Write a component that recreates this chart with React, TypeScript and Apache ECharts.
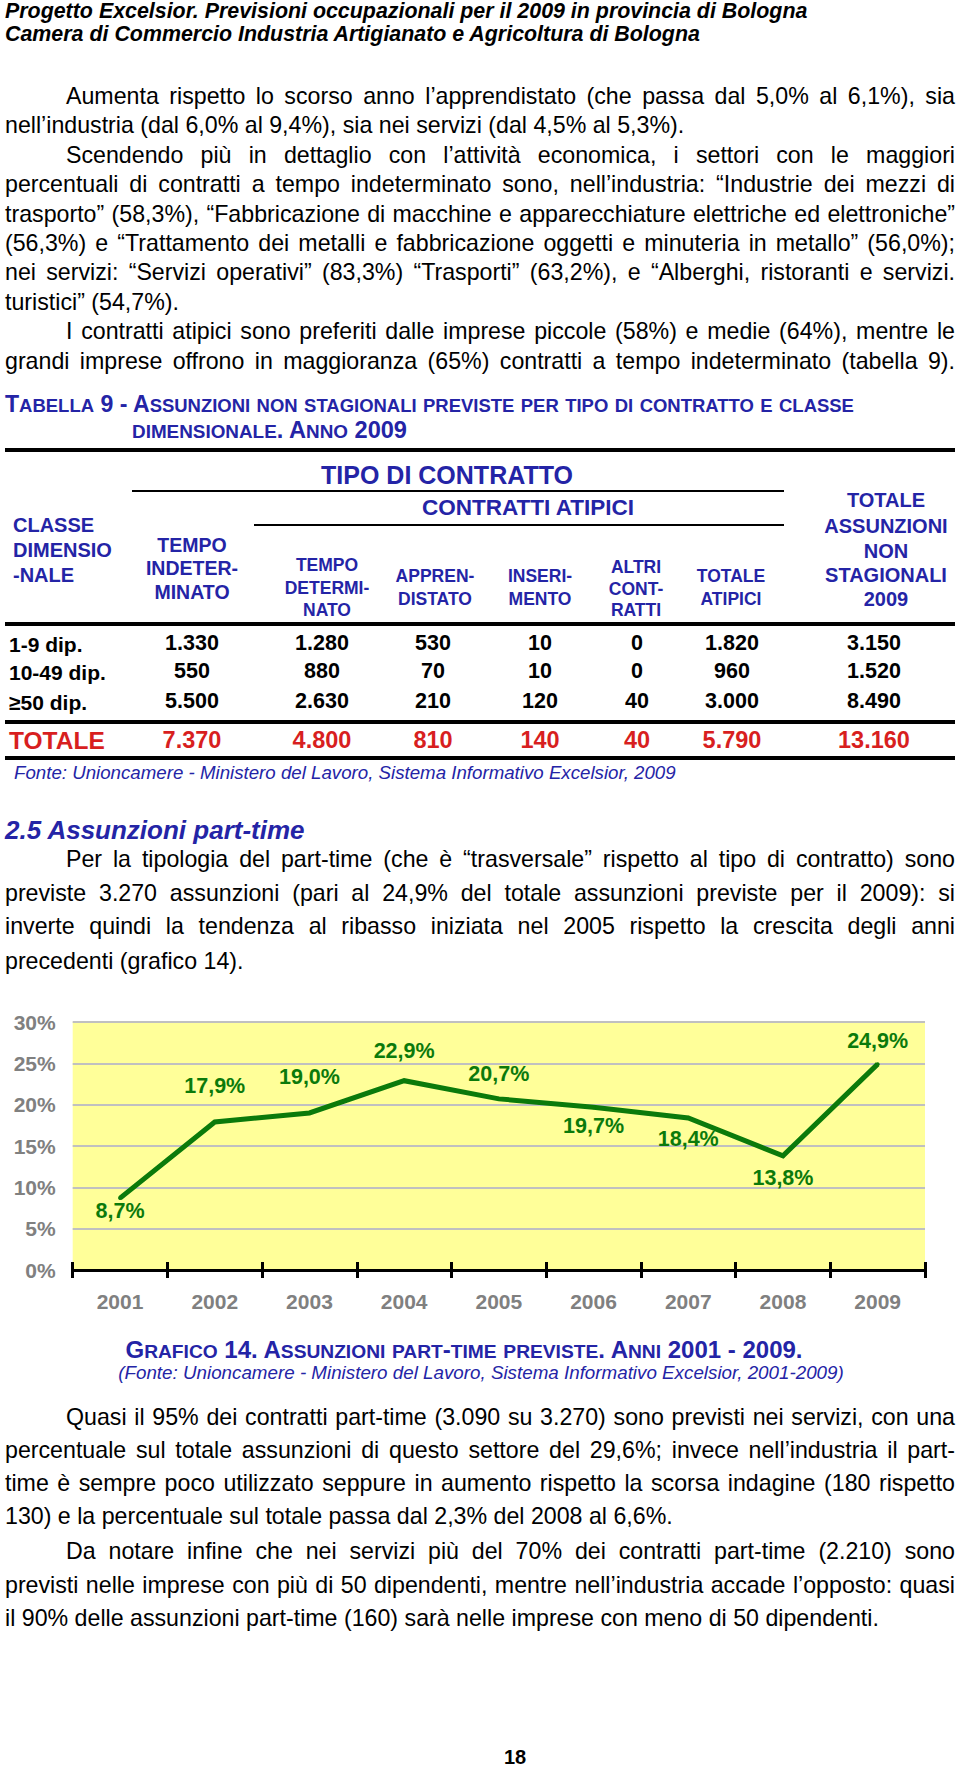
import React, { useEffect, useRef } from "react";
import * as echarts from "echarts";

const FONT = '"Liberation Sans", Arial, Helvetica, sans-serif';
const BLUE = "#2424a6";
const RED = "#d81f1f";
const GREEN = "#0b7a0b";
const GRAY = "#808080";

// ---------- chart data (Grafico 14) ----------
const years = ["2001", "2002", "2003", "2004", "2005", "2006", "2007", "2008", "2009"];
const partTimeShare = [8.7, 17.9, 19.0, 22.9, 20.7, 19.7, 18.4, 13.8, 24.9];
const yAxisMin = 0;
const yAxisMax = 30;
const yAxisStep = 5;

// label placement (style only)
const labelSide = ["bottom", "top", "top", "top", "top", "bottom", "bottom", "bottom", "top"];
const labelGap = [0, 23.5, 22.5, 17, 11.5, 5.5, 8.5, 9.5, 10.5];
const labelShiftX = [7, 3, 2, 2, 15, 1, 2, 1, 1];

// ---------- table data (Tabella 9) ----------
const sizeClasses = ["1-9 dip.", "10-49 dip.", "\u226550 dip."];
const tempoIndeterminato = [1330, 550, 5500];
const tempoDeterminato = [1280, 880, 2630];
const apprendistato = [530, 70, 210];
const inserimento = [10, 10, 120];
const altriContratti = [0, 0, 40];
const totaleAtipici = [1820, 960, 3000];
const totaleAssunzioni = [3150, 1520, 8490];
const totaleLabel = "TOTALE";
const totaleRow = [7370, 4800, 810, 140, 40, 5790, 13160];

// ---------- texts ----------
const headerLines = [
  "Progetto Excelsior. Previsioni occupazionali per il 2009 in provincia di Bologna",
  "Camera di Commercio Industria Artigianato e Agricoltura di Bologna",
];

type L = [string, boolean, boolean]; // text, indent, justify
const paraTop: L[] = [
  ["Aumenta rispetto lo scorso anno l\u2019apprendistato (che passa dal 5,0% al 6,1%), sia", true, true],
  ["nell\u2019industria (dal 6,0% al 9,4%), sia nei servizi (dal 4,5% al 5,3%).", false, false],
  ["Scendendo pi\u00f9 in dettaglio con l\u2019attivit\u00e0 economica, i settori con le maggiori", true, true],
  ["percentuali di contratti a tempo indeterminato sono, nell\u2019industria: \u201cIndustrie dei mezzi di", false, true],
  ["trasporto\u201d (58,3%), \u201cFabbricazione di macchine e apparecchiature elettriche ed elettroniche\u201d", false, true],
  ["(56,3%) e \u201cTrattamento dei metalli e fabbricazione oggetti e minuteria in metallo\u201d (56,0%);", false, true],
  ["nei servizi: \u201cServizi operativi\u201d (83,3%) \u201cTrasporti\u201d (63,2%), e \u201cAlberghi, ristoranti e servizi.", false, true],
  ["turistici\u201d (54,7%).", false, false],
  ["I contratti atipici sono preferiti dalle imprese piccole (58%) e medie (64%), mentre le", true, true],
  ["grandi imprese offrono in maggioranza (65%) contratti a tempo indeterminato (tabella 9).", false, true],
];
const paraTopY = [96, 125.4, 154.8, 184.2, 213.6, 243, 272.4, 301.8, 331.2, 360.6];

const paraMid: L[] = [
  ["Per la tipologia del part-time (che \u00e8 \u201ctrasversale\u201d rispetto al tipo di contratto) sono", true, true],
  ["previste 3.270 assunzioni (pari al 24,9% del totale assunzioni previste per il 2009): si", false, true],
  ["inverte quindi la tendenza al ribasso iniziata nel 2005 rispetto la crescita degli anni", false, true],
  ["precedenti (grafico 14).", false, false],
];
const paraMidY = [859, 893, 926, 961];

const paraBottom: L[] = [
  ["Quasi il 95% dei contratti part-time (3.090 su 3.270) sono previsti nei servizi, con una", true, true],
  ["percentuale sul totale assunzioni di questo settore del 29,6%; invece nell\u2019industria il part-", false, true],
  ["time \u00e8 sempre poco utilizzato seppure in aumento rispetto la scorsa indagine (180 rispetto", false, true],
  ["130) e la percentuale sul totale passa dal 2,3% del 2008 al 6,6%.", false, false],
  ["Da notare infine che nei servizi pi\u00f9 del 70% dei contratti part-time (2.210) sono", true, true],
  ["previsti nelle imprese con pi\u00f9 di 50 dipendenti, mentre nell\u2019industria accade l\u2019opposto: quasi", false, true],
  ["il 90% delle assunzioni part-time (160) sar\u00e0 nelle imprese con meno di 50 dipendenti.", false, false],
];
const paraBottomY = [1417, 1450, 1483, 1516, 1551, 1585, 1618];

const BODY_SIZE = 23.2;
const LEFT = 5;
const TEXT_W = 950;
const INDENT = 61;

function fmt(n: number): string {
  return String(n).replace(/\B(?=(\d{3})+(?!\d))/g, ".");
}

function SmallCaps({ text, ratio }: { text: string; ratio: number }) {
  const parts: { t: string; small: boolean }[] = [];
  let buf = "";
  let small: boolean | null = null;
  for (const ch of text) {
    const isLower = ch !== ch.toUpperCase();
    if (small === null) small = isLower;
    if (isLower !== small) {
      parts.push({ t: buf, small: !!small });
      buf = "";
      small = isLower;
    }
    buf += isLower ? ch.toUpperCase() : ch;
  }
  if (buf) parts.push({ t: buf, small: !!small });
  return (
    <>
      {parts.map((p, i) => (
        <span key={i} style={p.small ? { fontSize: ratio + "em" } : undefined}>
          {p.t}
        </span>
      ))}
    </>
  );
}

function BodyLine({ line, y }: { line: L; y: number }) {
  const [text, indent, justify] = line;
  const lh = 30;
  return (
    <div
      style={{
        position: "absolute",
        left: LEFT + (indent ? INDENT : 0),
        width: TEXT_W - (indent ? INDENT : 0),
        top: y - lh / 2,
        height: lh,
        lineHeight: lh + "px",
        fontSize: BODY_SIZE,
        textAlign: justify ? "justify" : "left",
        textAlignLast: justify ? "justify" : "left",
        color: "#000",
      } as React.CSSProperties}
    >
      {text}
    </div>
  );
}

type TProps = {
  x: number;
  y: number;
  children: React.ReactNode;
  size: number;
  color?: string;
  bold?: boolean;
  italic?: boolean;
  align?: "left" | "center";
};
function T({ x, y, children, size, color = "#000", bold = true, italic = false, align = "center" }: TProps) {
  return (
    <div
      style={{
        position: "absolute",
        left: x,
        top: y,
        transform: align === "center" ? "translate(-50%, -50%)" : "translate(0, -50%)",
        fontSize: size,
        lineHeight: 1,
        fontWeight: bold ? 700 : 400,
        fontStyle: italic ? "italic" : "normal",
        color,
        whiteSpace: "nowrap",
      }}
    >
      {children}
    </div>
  );
}

function HLine({ x1, x2, y, w }: { x1: number; x2: number; y: number; w: number }) {
  return (
    <div style={{ position: "absolute", left: x1, width: x2 - x1, top: y - w / 2, height: w, background: "#000" }} />
  );
}

function Chart() {
  const ref = useRef<HTMLDivElement>(null);
  useEffect(() => {
    const chart = echarts.init(ref.current!, null, { renderer: "svg" });
    const tickStyle = { color: "#000", width: 3 };
    chart.setOption({
      animation: false,
      textStyle: { fontFamily: FONT },
      grid: {
        left: 72.7,
        right: 35,
        top: 32,
        bottom: 50,
        show: true,
        backgroundColor: "#ffff99",
        borderWidth: 0,
      },
      xAxis: [
        {
          type: "category",
          data: years,
          position: "bottom",
          axisLine: { lineStyle: { color: "#000", width: 3 } },
          axisTick: { show: true, length: 8, lineStyle: tickStyle },
          axisLabel: { color: GRAY, fontWeight: "bold", fontSize: 21, margin: 21, fontFamily: FONT },
          splitLine: { show: false },
        },
        {
          type: "category",
          data: years,
          position: "bottom",
          axisLine: { show: false },
          axisTick: { show: true, inside: true, length: 8, lineStyle: tickStyle },
          axisLabel: { show: false },
          splitLine: { show: false },
        },
      ],
      yAxis: {
        type: "value",
        min: yAxisMin,
        max: yAxisMax,
        interval: yAxisStep,
        axisLine: { show: false },
        axisTick: { show: false },
        axisLabel: {
          formatter: "{value}%",
          color: GRAY,
          fontWeight: "bold",
          fontSize: 21,
          margin: 17,
          fontFamily: FONT,
        },
        splitLine: { lineStyle: { color: "#c0c0c0", width: 2 } },
      },
      series: [
        {
          type: "line",
          xAxisIndex: 0,
          data: partTimeShare.map((v, i) => ({
            value: v,
            label: {
              position: labelSide[i],
              distance: labelGap[i],
              offset: [labelShiftX[i], 0],
            },
          })),
          symbol: "circle",
          symbolSize: 4,
          showSymbol: true,
          itemStyle: { color: GREEN },
          lineStyle: { color: GREEN, width: 5, join: "miter" },
          label: {
            show: true,
            color: GREEN,
            fontWeight: "bold",
            fontSize: 21.5,
            fontFamily: FONT,
            formatter: (p: any) => Number(p.value).toFixed(1).replace(".", ",") + "%",
          },
          labelLayout: { hideOverlap: false },
        },
      ],
    });
    return () => chart.dispose();
  }, []);
  return <div ref={ref} style={{ position: "absolute", left: 0, top: 990, width: 960, height: 330 }} />;
}

export default function App() {
  const colX = [192, 322, 433, 540, 637, 732, 874];
  const hdrX = [192, 327, 435, 540, 636, 731, 886];
  const rowY = [644, 672, 702];
  const cols = [tempoIndeterminato, tempoDeterminato, apprendistato, inserimento, altriContratti, totaleAtipici, totaleAssunzioni];
  const hdr = 18.5;
  const sub = 17.5;
  const right = 20;
  return (
    <div
      style={{
        position: "relative",
        width: 960,
        height: 1775,
        background: "#fff",
        fontFamily: FONT,
        overflow: "hidden",
      }}
    >
      <style>{`body{margin:0}`}</style>
      {/* page header */}
      <T x={LEFT} y={12} size={21.4} italic align="left">{headerLines[0]}</T>
      <T x={LEFT} y={35} size={21.4} italic align="left">{headerLines[1]}</T>

      {paraTop.map((l, i) => (
        <BodyLine key={"t" + i} line={l} y={paraTopY[i]} />
      ))}

      {/* table title */}
      <T x={LEFT} y={405} size={23.1} color={BLUE} align="left">
        <SmallCaps text="Tabella 9 - Assunzioni non stagionali previste per tipo di contratto e classe" ratio={0.8} />
      </T>
      <T x={132} y={431} size={23.6} color={BLUE} align="left">
        <SmallCaps text="dimensionale. Anno 2009" ratio={0.8} />
      </T>

      {/* table */}
      <HLine x1={5} x2={955} y={450} w={4} />
      <T x={447} y={475} size={25} color={BLUE}>TIPO DI CONTRATTO</T>
      <HLine x1={132} x2={784} y={491} w={2} />
      <T x={528} y={508} size={22.5} color={BLUE}>CONTRATTI ATIPICI</T>
      <HLine x1={254} x2={784} y={525} w={2} />

      <T x={13} y={525} size={20} color={BLUE} align="left">CLASSE</T>
      <T x={13} y={550} size={20} color={BLUE} align="left">DIMENSIO</T>
      <T x={13} y={575} size={20} color={BLUE} align="left">-NALE</T>

      <T x={hdrX[0]} y={546} size={hdr + 1} color={BLUE}>TEMPO</T>
      <T x={hdrX[0]} y={569} size={hdr + 1} color={BLUE}>INDETER-</T>
      <T x={hdrX[0]} y={593} size={hdr + 1} color={BLUE}>MINATO</T>

      <T x={hdrX[1]} y={566} size={sub} color={BLUE}>TEMPO</T>
      <T x={hdrX[1]} y={589} size={sub} color={BLUE}>DETERMI-</T>
      <T x={hdrX[1]} y={611} size={sub} color={BLUE}>NATO</T>

      <T x={hdrX[2]} y={577} size={sub} color={BLUE}>APPREN-</T>
      <T x={hdrX[2]} y={600} size={sub} color={BLUE}>DISTATO</T>

      <T x={hdrX[3]} y={577} size={sub} color={BLUE}>INSERI-</T>
      <T x={hdrX[3]} y={600} size={sub} color={BLUE}>MENTO</T>

      <T x={hdrX[4]} y={568} size={sub} color={BLUE}>ALTRI</T>
      <T x={hdrX[4]} y={590} size={sub} color={BLUE}>CONT-</T>
      <T x={hdrX[4]} y={611} size={sub} color={BLUE}>RATTI</T>

      <T x={hdrX[5]} y={577} size={sub} color={BLUE}>TOTALE</T>
      <T x={hdrX[5]} y={600} size={sub} color={BLUE}>ATIPICI</T>

      <T x={hdrX[6]} y={500} size={right} color={BLUE}>TOTALE</T>
      <T x={hdrX[6]} y={526} size={right} color={BLUE}>ASSUNZIONI</T>
      <T x={hdrX[6]} y={551} size={right} color={BLUE}>NON</T>
      <T x={hdrX[6]} y={575} size={right} color={BLUE}>STAGIONALI</T>
      <T x={hdrX[6]} y={599} size={right} color={BLUE}>2009</T>

      <HLine x1={5} x2={955} y={624} w={4} />
      {sizeClasses.map((c, r) => (
        <React.Fragment key={c}>
          <T x={9} y={rowY[r]} size={21} align="left">{c}</T>
          {cols.map((col, k) => (
            <T key={k} x={colX[k]} y={rowY[r]} size={21.5}>{fmt(col[r])}</T>
          ))}
        </React.Fragment>
      ))}
      <HLine x1={5} x2={955} y={722} w={4} />
      <T x={9} y={741} size={24.5} color={RED} align="left">{totaleLabel}</T>
      {totaleRow.map((v, k) => (
        <T key={k} x={colX[k]} y={741} size={23.5} color={RED}>{fmt(v)}</T>
      ))}
      <HLine x1={5} x2={955} y={758} w={4} />
      <T x={14} y={773} size={18.7} color={BLUE} bold={false} italic align="left">
        Fonte: Unioncamere - Ministero del Lavoro, Sistema Informativo Excelsior, 2009
      </T>

      {/* section 2.5 */}
      <T x={LEFT} y={830} size={26} color={BLUE} italic align="left">2.5 Assunzioni part-time</T>
      {paraMid.map((l, i) => (
        <BodyLine key={"m" + i} line={l} y={paraMidY[i]} />
      ))}

      <Chart />

      <T x={464} y={1350} size={24} color={BLUE}>
        <SmallCaps text="Grafico 14. Assunzioni part-time previste. Anni 2001 - 2009." ratio={0.8} />
      </T>
      <T x={481} y={1373} size={18.8} color={BLUE} bold={false} italic>
        (Fonte: Unioncamere - Ministero del Lavoro, Sistema Informativo Excelsior, 2001-2009)
      </T>

      {paraBottom.map((l, i) => (
        <BodyLine key={"b" + i} line={l} y={paraBottomY[i]} />
      ))}

      <T x={515} y={1757} size={20}>18</T>
    </div>
  );
}
